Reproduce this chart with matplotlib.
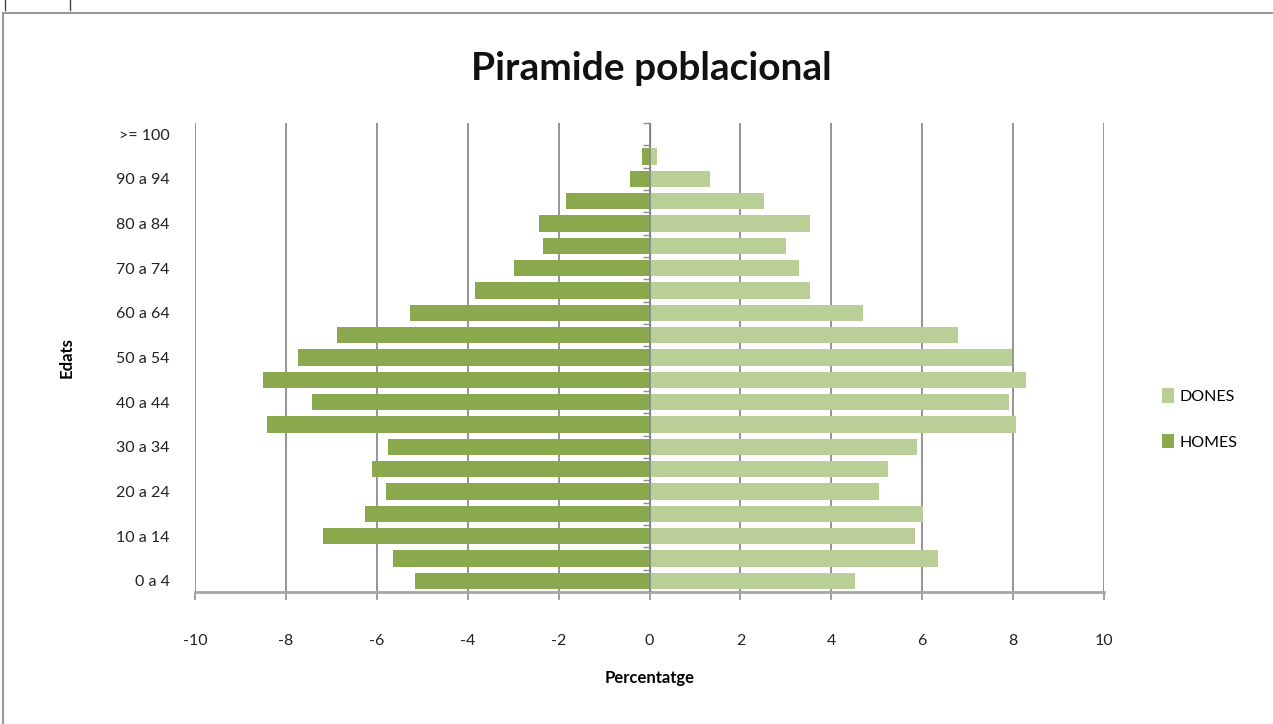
import numpy as np
import matplotlib.pyplot as plt
from matplotlib.patches import Rectangle
from matplotlib.lines import Line2D

# age groups, bottom to top
edats = ['0 a 4', '5 a 9', '10 a 14', '15 a 19', '20 a 24', '25 a 29', '30 a 34',
         '35 a 39', '40 a 44', '45 a 49', '50 a 54', '55 a 59', '60 a 64', '65 a 69',
         '70 a 74', '75 a 79', '80 a 84', '85 a 89', '90 a 94', '95 a 99', '>= 100']

# percentages
homes = [-5.17, -5.65, -7.19, -6.27, -5.80, -6.10, -5.76, -8.42, -7.43, -8.51,
         -7.74, -6.88, -5.27, -3.85, -2.99, -2.34, -2.44, -1.83, -0.43, -0.16, 0.0]
dones = [4.52, 6.35, 5.85, 6.02, 5.04, 5.25, 5.89, 8.07, 7.91, 8.29,
         7.98, 6.78, 4.69, 3.53, 3.29, 3.00, 3.53, 2.53, 1.33, 0.16, 0.0]

xticks = list(range(-10, 11, 2))

col_homes = '#8aa84e'
col_dones = '#bacf98'
grid_col = '#8c8c8c'
font = ['Lato', 'DejaVu Sans']

plt.rcParams['font.family'] = font

fig = plt.figure(figsize=(12.73, 7.24), dpi=100)
ax = fig.add_axes([195 / 1273, 132 / 724, 909 / 1273, 469 / 724])

y = np.arange(len(edats))
ax.barh(y, dones, height=0.72, color=col_dones, label='DONES', zorder=3)
ax.barh(y, homes, height=0.72, color=col_homes, label='HOMES', zorder=3)

ax.set_xlim(-10, 10)
ax.set_ylim(-0.5, len(edats) - 0.5)

# vertical gridlines
ax.set_xticks(xticks)
ax.set_xticklabels([str(v) for v in xticks], fontsize=11.5, color='#222222')
for v in xticks:
    if v != 0:
        ax.axvline(v, color=grid_col, lw=1.3, zorder=1)
ax.axvline(0, color=grid_col, lw=1.3, zorder=4)

ax.tick_params(axis='x', length=6, width=1.2, color=grid_col, pad=24)

# category labels every other group
ax.set_yticks(y[::2])
ax.set_yticklabels(edats[::2], fontsize=11.5, color='#222222')
ax.tick_params(axis='y', length=0, pad=18)

# small tick marks on the zero axis at category boundaries
sec = ax.secondary_yaxis(0.5)
sec.set_yticks(np.arange(-0.5, len(edats), 1.0))
sec.set_yticklabels([])
sec.tick_params(axis='y', direction='in', length=5, width=1, color=grid_col)
sec.spines['left'].set_visible(False)

for s in ['top', 'right', 'left']:
    ax.spines[s].set_visible(False)
ax.spines['bottom'].set_color('#a6a6a6')
ax.spines['bottom'].set_linewidth(2)

ax.set_xlabel('Percentatge', fontsize=12, fontweight='bold', labelpad=16)
ax.set_ylabel('Edats', fontsize=12, fontweight='bold', labelpad=30)

fig.text(651 / 1273, 1 - 68 / 724, 'Piramide poblacional', ha='center', va='center',
         fontsize=28, fontweight='bold', color='#111111')

fig.legend(loc='center left', bbox_to_anchor=(1148 / 1273, 1 - 419 / 724),
           frameon=False, fontsize=11.5, labelspacing=1.9, handlelength=0.7,
           handleheight=1.0, handletextpad=0.4)

# chart border
fig.patches.append(Rectangle((3 / 1273, -0.05), 1.2, 1 - 13 / 724 + 0.05,
                             transform=fig.transFigure, fill=False,
                             edgecolor='#9a9a9a', lw=1.5))
# cut-off marks above the chart
for xp in (5, 70):
    fig.add_artist(Line2D([xp / 1273, xp / 1273], [1 - 10 / 724, 1.0],
                          transform=fig.transFigure, color='#444444', lw=1))

fig.savefig('out.png', dpi=100)
